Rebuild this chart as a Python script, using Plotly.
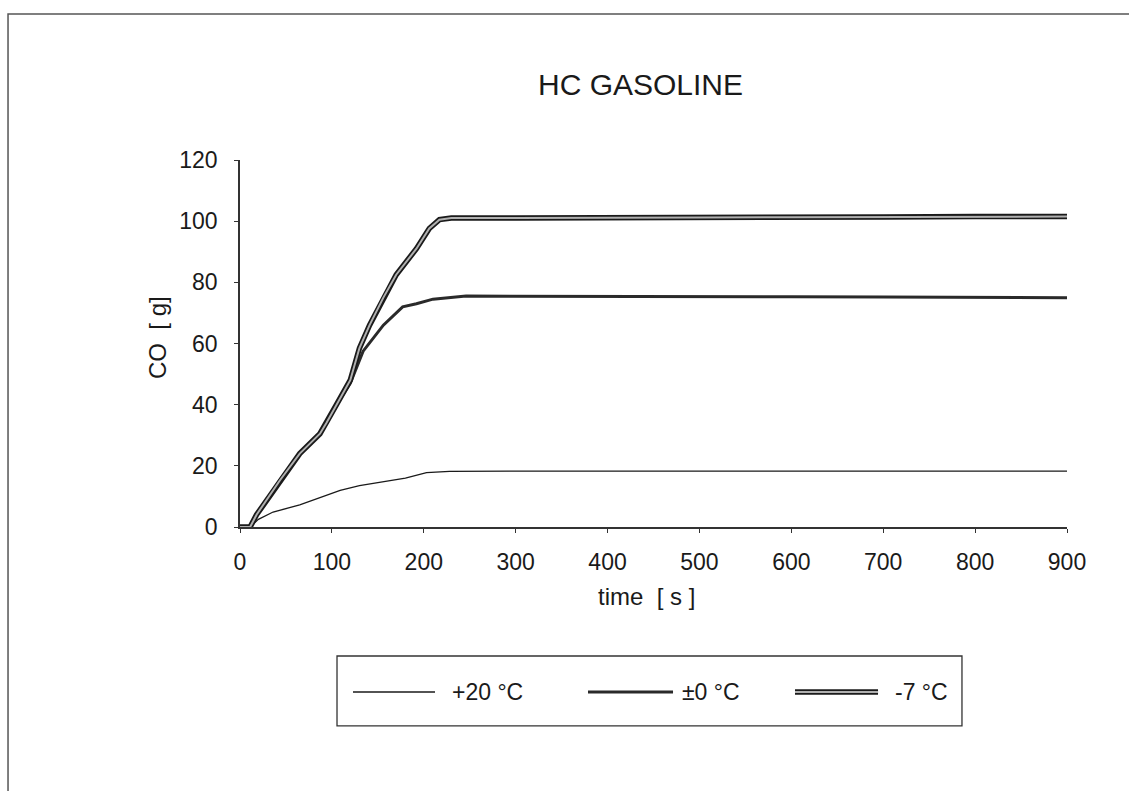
import plotly.graph_objects as go

# time [s] and CO [g]
t_m7 = [0, 11, 18, 29, 43.5, 65, 87, 94, 105, 120, 130, 141, 156, 170, 192, 206, 217, 230, 300, 400, 500, 600, 700, 800, 900]
co_m7 = [0, 0, 4, 8.8, 15.3, 24, 30.5, 34, 40, 48, 58.5, 66, 75, 82.5, 91, 97.6, 100.5, 101, 101, 101, 101.2, 101.3, 101.4, 101.5, 101.5]

t_0 = [0, 11, 18, 29, 43.5, 65, 87, 94, 105, 120, 134, 156, 177, 192, 210, 246, 300, 400, 500, 600, 700, 800, 900]
co_0 = [0, 0, 4, 8.8, 15.3, 24, 30.5, 34, 40, 47, 57.5, 66, 72, 73, 74.5, 75.5, 75.5, 75.5, 75.5, 75.3, 75.2, 75.1, 75]

t_20 = [0, 11, 20, 36, 65, 90, 109, 130, 156, 180, 203, 228, 300, 400, 500, 600, 700, 800, 900]
co_20 = [0, 0, 2.5, 4.9, 7.2, 10, 12, 13.5, 14.7, 16, 17.8, 18.2, 18.3, 18.3, 18.3, 18.3, 18.3, 18.3, 18.3]

x_ticks = [0, 100, 200, 300, 400, 500, 600, 700, 800, 900]
y_ticks = [0, 20, 40, 60, 80, 100, 120]

series_names = ["+20 °C", "±0 °C", "-7 °C"]

FONT = "Liberation Sans, Arial, sans-serif"
INK = "#1a1a1a"

fig = go.Figure()
fig.add_trace(go.Scatter(x=t_20, y=co_20, mode="lines", name=series_names[0],
                         line=dict(color=INK, width=1.3)))
fig.add_trace(go.Scatter(x=t_0, y=co_0, mode="lines", name=series_names[1],
                         line=dict(color="#2a2a2a", width=3)))
fig.add_trace(go.Scatter(x=t_m7, y=co_m7, mode="lines", name=series_names[2],
                         line=dict(color=INK, width=5.5)))
fig.add_trace(go.Scatter(x=t_m7, y=co_m7, mode="lines", name=series_names[2],
                         showlegend=False, line=dict(color="#b0b0b0", width=2)))

# legend drawn as a boxed row (line sample + label), positions in paper units
leg_y = -0.4496
leg_lines = [(0.1366, 0.2358), (0.4208, 0.5236), (0.6711, 0.7715)]
leg_text_x = [0.2539, 0.532, 0.7896]

shapes = [
    # page border
    dict(type="rect", xref="paper", yref="paper", x0=-0.2805, x1=1.2, y0=-1.0, y1=1.3978,
         line=dict(color="#555", width=1.5), layer="below"),
    # legend box
    dict(type="rect", xref="paper", yref="paper", x0=0.1173, x1=0.873, y0=-0.542, y1=-0.3515,
         line=dict(color="#333", width=1.3)),
]
leg_styles = [
    [dict(color=INK, width=1.3)],
    [dict(color="#2a2a2a", width=3)],
    [dict(color=INK, width=5.5), dict(color="#b0b0b0", width=2)],
]
for (x0, x1), styles in zip(leg_lines, leg_styles):
    for st in styles:
        shapes.append(dict(type="line", xref="paper", yref="paper", x0=x0, x1=x1,
                           y0=leg_y, y1=leg_y, line=st))

annotations = [
    dict(text="HC GASOLINE", x=0.4837, y=1.207, xref="paper", yref="paper",
         xanchor="center", yanchor="middle", showarrow=False, font=dict(size=30)),
    dict(text="time  [ s ]", x=0.492, y=-0.1907, xref="paper", yref="paper",
         xanchor="center", yanchor="middle", showarrow=False, font=dict(size=24)),
    dict(text="CO  [ g]", x=-0.1004, y=0.5177, xref="paper", yref="paper",
         xanchor="center", yanchor="middle", showarrow=False, textangle=-90,
         font=dict(size=24)),
]
for name, tx in zip(series_names, leg_text_x):
    annotations.append(dict(text=name, x=tx, y=leg_y, xref="paper", yref="paper",
                            xanchor="left", yanchor="middle", showarrow=False,
                            font=dict(size=23)))

fig.update_layout(
    width=1129, height=791,
    margin=dict(l=240, r=62, t=160, b=264),
    paper_bgcolor="white", plot_bgcolor="white",
    font=dict(family=FONT, color=INK, size=23),
    showlegend=False,
    xaxis=dict(range=[0, 900], tickvals=x_ticks, ticks="outside", ticklen=4,
               showgrid=False, zeroline=False, showline=True, linecolor="#333", linewidth=1.5,
               tickcolor="#333", ticklabelstandoff=10, tickfont=dict(size=23)),
    yaxis=dict(range=[0, 120], tickvals=y_ticks, ticks="outside", ticklen=4,
               showgrid=False, zeroline=False, showline=True, linecolor="#333", linewidth=1.5,
               tickcolor="#333", ticklabelstandoff=12, tickfont=dict(size=23)),
    annotations=annotations,
    shapes=shapes,
)

fig.write_html("out.html")
